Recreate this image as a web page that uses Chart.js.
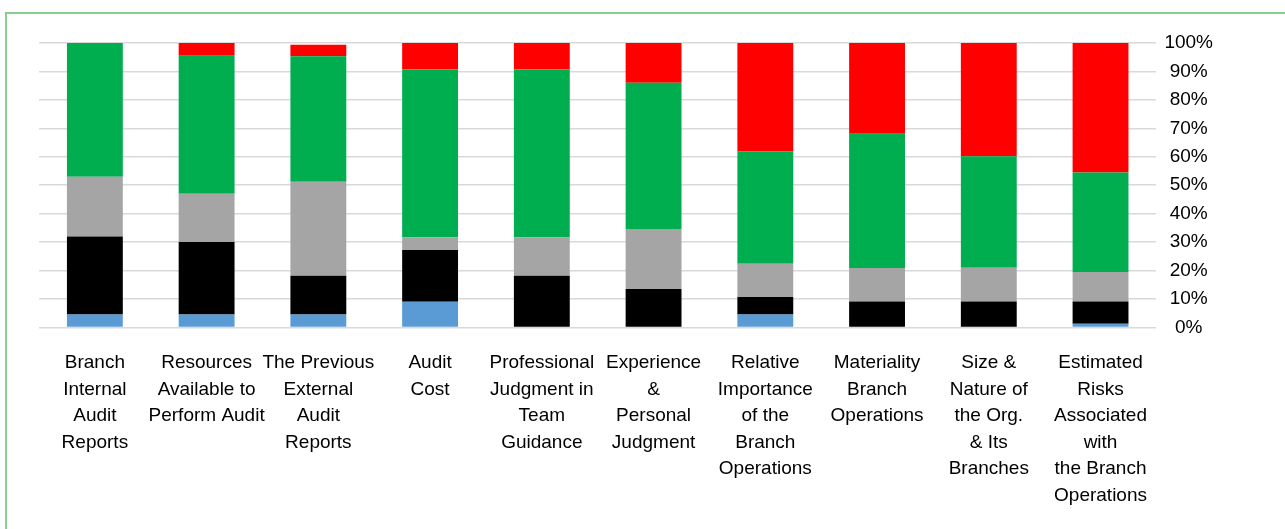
<!DOCTYPE html>
<html>
<head>
<meta charset="utf-8">
<script src="https://cdn.jsdelivr.net/npm/chart.js@4"></script>
<style>
    html, body { margin: 0; padding: 0; background: #ffffff; }
    #wrap { position: relative; width: 1285px; height: 529px; overflow: hidden; }
    #frame {
        position: absolute; left: 5px; top: 12px; right: -10px; bottom: -10px;
        border-top: 2px solid #85d08e; border-left: 2px solid #85d08e;
    }
    #chart-box { position: absolute; left: 0; top: 0; width: 1285px; height: 529px; }
</style>
</head>
<body>
<div id="wrap">
    <div id="frame"></div>
    <div id="chart-box"><canvas id="myChart"></canvas></div>
</div>
<script>
// categories (one array of lines per bar)
const categories = [
    ['Branch', 'Internal', 'Audit', 'Reports'],
    ['Resources', 'Available to', 'Perform Audit'],
    ['The Previous', 'External', 'Audit', 'Reports'],
    ['Audit', 'Cost'],
    ['Professional', 'Judgment in', 'Team', 'Guidance'],
    ['Experience', '&', 'Personal', 'Judgment'],
    ['Relative', 'Importance', 'of the', 'Branch', 'Operations'],
    ['Materiality', 'Branch', 'Operations'],
    ['Size &', 'Nature of', 'the Org.', '& Its', 'Branches'],
    ['Estimated', 'Risks', 'Associated', 'with', 'the Branch', 'Operations']
];

// series values in percent, bottom to top
const blueValues = [4.5, 4.5, 4.5, 9, 0, 0, 4.5, 0, 0, 1.3];
const blackValues = [27.5, 25.5, 13.7, 18.2, 18.2, 13.5, 6.2, 9.1, 9.1, 7.8];
const grayValues = [21, 17, 33, 4.5, 13.5, 21.1, 11.7, 11.8, 11.9, 10.4];
const greenValues = [47, 48.5, 44.1, 59, 59, 51.4, 39.5, 47.2, 39.2, 35];
const redValues = [0, 4.5, 4.1, 9.3, 9.3, 14, 38.1, 31.9, 39.8, 45.5];

// tick labels
const yTicks = [0, 10, 20, 30, 40, 50, 60, 70, 80, 90, 100];

const ctx = document.getElementById('myChart').getContext('2d');
const myChart = new Chart(ctx, {
    type: 'bar',
    data: {
        labels: categories,
        datasets: [{
            label: 'Series 1',
            data: blueValues,
            backgroundColor: '#5b9bd5'
        }, {
            label: 'Series 2',
            data: blackValues,
            backgroundColor: '#000000'
        }, {
            label: 'Series 3',
            data: grayValues,
            backgroundColor: '#a5a5a5'
        }, {
            label: 'Series 4',
            data: greenValues,
            backgroundColor: '#00ad4f'
        }, {
            label: 'Series 5',
            data: redValues,
            backgroundColor: '#ff0000'
        }]
    },
    options: {
        responsive: true,
        maintainAspectRatio: false,
        animation: false,
        layout: {
            padding: { left: 39, top: 43, right: 64, bottom: 6 }
        },
        datasets: {
            bar: { categoryPercentage: 1, barPercentage: 0.5, borderWidth: 0 }
        },
        plugins: {
            legend: { display: false },
            tooltip: { enabled: false }
        },
        scales: {
            x: {
                stacked: true,
                grid: { display: false },
                border: { display: false },
                ticks: {
                    color: '#000000',
                    maxRotation: 0,
                    autoSkip: false,
                    padding: 14,
                    font: { family: '"Liberation Sans", Arial, sans-serif', size: 19, lineHeight: 1.4 }
                }
            },
            y: {
                stacked: true,
                position: 'right',
                min: 0,
                max: 100,
                afterBuildTicks: axis => {
                    axis.ticks = yTicks.map(v => ({ value: v }));
                },
                grid: { color: '#d9d9d9', lineWidth: 1.5, drawTicks: false },
                border: { display: false },
                ticks: {
                    color: '#000000',
                    padding: 8,
                    crossAlign: 'center',
                    callback: v => v + '%',
                    font: { family: '"Liberation Sans", Arial, sans-serif', size: 19 }
                }
            }
        }
    }
});
</script>
</body>
</html>
